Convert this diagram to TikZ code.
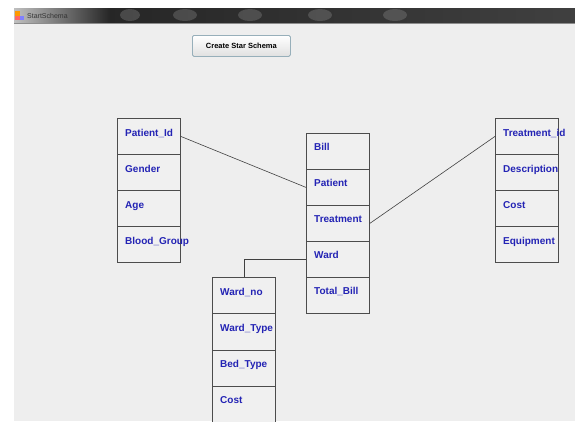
\documentclass[tikz,border=0pt]{standalone}
\usepackage{fontspec}
\setmainfont{Liberation Sans}
\begin{document}
\begin{tikzpicture}[x=1pt,y=-1pt,
  cell/.style={draw=black!70,line width=0.8pt,fill=black!6,minimum width=63pt,minimum height=36pt,inner sep=0pt,anchor=north west},
  field/.style={anchor=base west,inner sep=0pt,text=fieldblue,font=\fontsize{10}{12}\selectfont\bfseries},
  link/.style={draw=black!75,line width=0.6pt},
  blob/.style={fill=black!40,opacity=0.3}]
\definecolor{fieldblue}{HTML}{2323B4}
\definecolor{bodygray}{HTML}{EEEEEE}
\useasboundingbox (0,0) rectangle (575,421);
\clip (0,0) rectangle (575,421);
\fill[white] (0,0) rectangle (575,421);
% window body
\fill[bodygray] (14,22) rectangle (575,421);
\fill[black!45] (14,22) rectangle (575,24);
% title bar
\shade[left color=black!25,right color=black!85] (14,8) rectangle (110,22);
\shade[left color=black!85,right color=black!75] (110,8) rectangle (575,22);
\fill[blob] (130,15) ellipse (10 and 6);
\fill[blob] (185,15) ellipse (12 and 6);
\fill[blob] (250,15) ellipse (12 and 6);
\fill[blob] (320,15) ellipse (12 and 6);
\fill[blob] (395,15) ellipse (12 and 6);
\fill[orange!80!yellow] (15,11) rectangle (20,16);
\fill[blue!50] (20,16) rectangle (24,20);
\fill[red!60] (15,16) rectangle (20,20);
\node[anchor=west,inner sep=0pt,font=\fontsize{7}{8}\selectfont,text=black!80] (title) at (27,15.5) {StartSchema};
% button
\node[draw=cyan!40!black!50,line width=0.8pt,rounded corners=1.5pt,top color=white,bottom color=black!12,minimum width=98pt,minimum height=21pt,inner sep=0pt,anchor=north west,font=\fontsize{7.5}{9}\selectfont\bfseries] (btn) at (192,35) {Create Star Schema};
% Patient table
\node[cell] (p1) at (117,118) {};
\node[cell] (p2) at (117,154) {};
\node[cell] (p3) at (117,190) {};
\node[cell] (p4) at (117,226) {};
\node[field] (tp1) at (125,136) {Patient\_Id};
\node[field] (tp2) at (125,172) {Gender};
\node[field] (tp3) at (125,208) {Age};
\node[field] (tp4) at (125,244) {Blood\_Group};
% Bill table
\node[cell] (b1) at (306,133) {};
\node[cell] (b2) at (306,169) {};
\node[cell] (b3) at (306,205) {};
\node[cell] (b4) at (306,241) {};
\node[cell] (b5) at (306,277) {};
\node[field] (tb1) at (314,150) {Bill};
\node[field] (tb2) at (314,186) {Patient};
\node[field] (tb3) at (314,222) {Treatment};
\node[field] (tb4) at (314,258) {Ward};
\node[field] (tb5) at (314,294) {Total\_Bill};
% Treatment table
\node[cell] (t1) at (495,118) {};
\node[cell] (t2) at (495,154) {};
\node[cell] (t3) at (495,190) {};
\node[cell] (t4) at (495,226) {};
\node[field] (tt1) at (503,136) {Treatment\_id};
\node[field] (tt2) at (503,172) {Description};
\node[field] (tt3) at (503,208) {Cost};
\node[field] (tt4) at (503,244) {Equipment};
% Ward table
\node[cell,minimum height=36.33pt] (w1) at (212,277) {};
\node[cell,minimum height=36.33pt] (w2) at (212,313.33) {};
\node[cell,minimum height=36.33pt] (w3) at (212,349.67) {};
\node[cell,minimum height=36.33pt] (w4) at (212,386) {};
\node[field] (tw1) at (220,295) {Ward\_no};
\node[field] (tw2) at (220,331) {Ward\_Type};
\node[field] (tw3) at (220,367) {Bed\_Type};
\node[field] (tw4) at (220,403) {Cost};
% connectors
\draw[link] (p1.east) -- (b2.west);
\draw[link] (b3.east) -- (t1.west);
\draw[link] (b4.west) -| (w1.north);
\end{tikzpicture}
\end{document}
